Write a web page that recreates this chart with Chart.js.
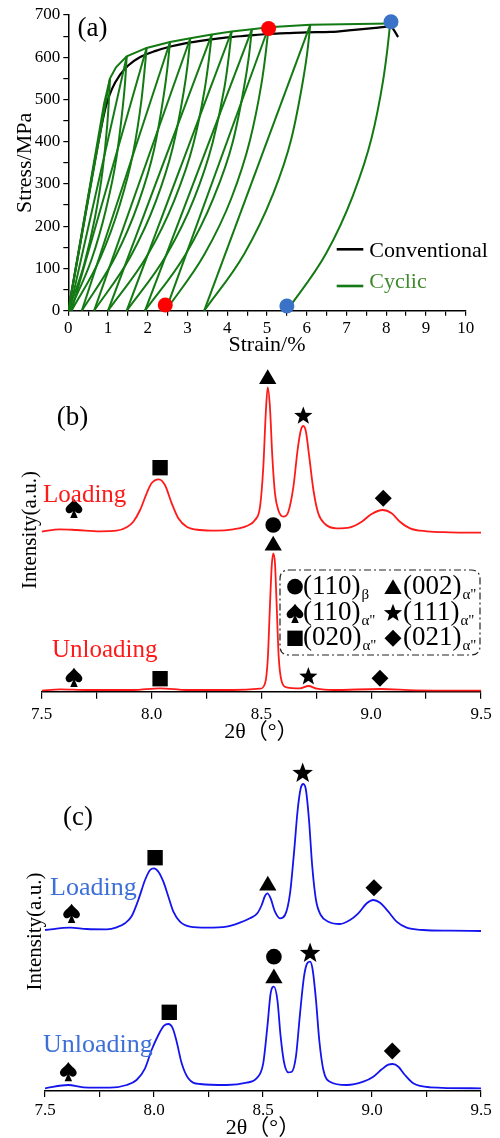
<!DOCTYPE html>
<html><head><meta charset="utf-8">
<script src="https://cdn.jsdelivr.net/npm/chart.js@4.4.1/dist/chart.umd.min.js"></script>
<style>
html,body{margin:0;padding:0;background:#fff;width:500px;height:1138px;overflow:hidden;}
canvas{position:absolute;left:0;}
#ca{top:0}#cb{top:360px}#cc{top:745px}
</style></head><body>
<canvas id="ca" width="500" height="360" style="width:500px;height:360px"></canvas>
<canvas id="cb" width="500" height="385" style="width:500px;height:385px"></canvas>
<canvas id="cc" width="500" height="393" style="width:500px;height:393px"></canvas>
<script>
// ---------- Panel (a): stress-strain ----------
const convStrain = [0, 0.45, 0.8, 0.95, 1.1, 1.3, 1.5, 1.8, 2.2, 2.6, 3.0, 3.5, 4.0, 4.5, 5.0, 5.5, 6.0, 6.6, 7.2, 7.8, 8.1, 8.3];
const convStress = [0, 240, 420, 485, 525, 558, 580, 600, 615, 626, 634, 641, 647, 651, 655, 657, 659, 660, 665, 670, 673, 648];
const cyclicPeakStrain = [1.05, 1.47, 1.97, 2.56, 3.07, 3.61, 4.11, 4.62, 5.04, 6.09, 8.1];
const cyclicPeakStress = [550, 602, 622, 636, 645, 654, 661, 666, 671, 677, 680];
const cyclicResidualStrain = [0, 0.03, 0.08, 0.34, 0.65, 1.0, 1.47, 1.93, 2.45, 3.42, 5.5];
const unloadStrain = [
 [0, 0.40, 0.67, 0.86, 0.98, 1.02, 1.05],
 [0.03, 0.58, 0.95, 1.21, 1.37, 1.43, 1.47],
 [0.08, 0.80, 1.29, 1.63, 1.84, 1.91, 1.97],
 [0.34, 1.18, 1.76, 2.16, 2.40, 2.49, 2.56],
 [0.65, 1.57, 2.20, 2.63, 2.90, 3.00, 3.07],
 [1.0, 1.99, 2.67, 3.14, 3.43, 3.53, 3.61],
 [1.47, 2.47, 3.16, 3.63, 3.93, 4.03, 4.11],
 [1.93, 2.95, 3.65, 4.14, 4.43, 4.54, 4.62],
 [2.45, 3.43, 4.11, 4.57, 4.86, 4.96, 5.04],
 [3.42, 4.43, 5.13, 5.61, 5.90, 6.01, 6.09],
 [5.5, 6.49, 7.16, 7.63, 7.92, 8.02, 8.1]];
const unloadStress = [
 [0, 110, 220, 330, 440, 495, 550],
 [0, 120, 241, 361, 482, 542, 602],
 [0, 124, 249, 373, 498, 560, 622],
 [0, 127, 254, 382, 509, 572, 636],
 [0, 129, 258, 387, 516, 581, 645],
 [0, 131, 262, 392, 523, 589, 654],
 [0, 132, 264, 397, 529, 595, 661],
 [0, 133, 266, 400, 533, 599, 666],
 [0, 134, 268, 403, 537, 604, 671],
 [0, 135, 271, 406, 542, 609, 677],
 [0, 136, 272, 408, 544, 612, 680]];
const envelopeStrain = [0, 0.5, 0.9, 1.05, 1.2, 1.47, 1.97, 2.56, 3.07, 3.61, 4.11, 4.62, 5.04, 6.09, 8.1];
const envelopeStress = [0, 272, 490, 550, 576, 602, 622, 636, 645, 654, 661, 666, 671, 677, 680];
const redDotStrain = [5.04, 2.44];
const redDotStress = [668, 13.5];
const blueDotStrain = [8.12, 5.5];
const blueDotStress = [684, 11];
const legendALabels = ['Conventional', 'Cyclic'];

// ---------- Panel (b): XRD, red (2θ, intensity a.u.) ----------
const bLoading = [[7.5,160],[7.583,162.4],[7.659,161.7],[7.765,160.4],[7.841,161],[7.887,164.4],[7.917,170],[7.948,181.7],[7.978,198.4],[8.0,208.4],[8.033,212.4],[8.061,206.7],[8.092,188.4],[8.122,173.4],[8.16,165],[8.221,161.7],[8.297,161],[8.372,162.4],[8.433,165.7],[8.471,171.7],[8.494,185],[8.509,225],[8.52,278],[8.529,304.4],[8.539,285],[8.55,235],[8.562,198.4],[8.577,181.7],[8.6,175],[8.623,180],[8.646,205],[8.665,241.7],[8.68,261.7],[8.691,265.7],[8.703,260],[8.718,235],[8.737,201.7],[8.759,178.4],[8.79,167.7],[8.843,163.4],[8.904,164.4],[8.957,170],[9.002,177.7],[9.052,181.7],[9.093,178.4],[9.131,170],[9.177,163.4],[9.253,160.4],[9.359,159.4],[9.5,159]];
const bUnloading = [[7.5,1],[7.583,2.4],[7.705,1.7],[7.917,1.7],[8.039,3.4],[8.16,1.7],[8.372,1.7],[8.494,3],[8.517,8.4],[8.529,31.7],[8.539,85],[8.547,125],[8.554,138.4],[8.562,128.4],[8.57,85],[8.579,35],[8.593,10],[8.615,4.4],[8.676,3.4],[8.714,5.7],[8.752,3],[8.828,1.7],[9.04,2.7],[9.2,1.4],[9.5,1]];
const bLoadMarks = [['triangle',8.529,315],['star',8.691,275.7],['square',8.039,224],['spade',7.647,183.4],['diamond',9.055,193.4]];
const bUnloadMarks = [['circle',8.554,166.7],['triangle',8.554,148.4],['spade',7.647,14.4],['square',8.039,13],['star',8.714,15],['diamond',9.04,13.4]];
const legendBShapes = ['circle','triangle','spade','star','square','diamond'];
const legendBLabels = ['(110)','(002)','(110)','(111)','(020)','(021)'];
const legendBSubs = ['β','α"','α"','α"','α"','α"'];

// ---------- Panel (c): XRD, blue ----------
const cLoading = [[7.5,161],[7.615,163.3],[7.691,162],[7.783,161.7],[7.829,163.7],[7.867,167.7],[7.898,175],[7.928,191],[7.959,211],[7.982,221],[8.0,222.7],[8.02,219.3],[8.043,209.3],[8.066,194.3],[8.089,179.3],[8.119,169.3],[8.165,164.3],[8.242,163.3],[8.333,164.3],[8.394,168.3],[8.44,172.7],[8.474,177.7],[8.494,186],[8.509,195],[8.52,197.7],[8.535,192.7],[8.555,179.3],[8.578,172.7],[8.601,176],[8.624,197.7],[8.642,237.7],[8.659,281],[8.673,302.7],[8.685,307],[8.697,301],[8.711,271],[8.726,224.3],[8.743,191],[8.765,176],[8.8,169.3],[8.853,167],[8.899,171],[8.937,177.7],[8.976,187.7],[9.006,191],[9.037,188.3],[9.075,179.3],[9.113,169.3],[9.159,163.3],[9.235,161],[9.358,160.3],[9.5,160]];
const cUnloading = [[7.5,2.7],[7.607,6],[7.676,3.7],[7.798,3.3],[7.875,6],[7.92,11],[7.959,22.7],[7.989,41],[8.02,56],[8.046,65.3],[8.066,67],[8.086,62.7],[8.104,49.3],[8.127,27.7],[8.157,12.7],[8.211,7],[8.333,6],[8.425,8.3],[8.471,12.7],[8.501,27.7],[8.52,64.3],[8.535,97.7],[8.55,104.3],[8.566,91],[8.581,54.3],[8.596,29.3],[8.616,18.7],[8.632,19.3],[8.651,34.3],[8.67,77.7],[8.688,114.3],[8.703,127.7],[8.716,129.3],[8.728,121],[8.743,91],[8.758,51],[8.777,21],[8.807,9.3],[8.884,6],[8.96,9.3],[9.006,14.3],[9.045,21.7],[9.075,26.3],[9.095,27],[9.121,24.3],[9.151,16],[9.189,7.7],[9.266,3.7],[9.5,2.7]];
const cLoadMarks = [['spade',7.622,177.7],['square',8.005,233.3],['triangle',8.522,207.7],['star',8.682,317.7,18],['diamond',9.009,203.3]];
const cUnloadMarks = [['spade',7.607,19.3],['square',8.07,78.7],['circle',8.55,134.3],['triangle',8.55,115],['star',8.716,137.7,18],['diamond',9.093,40]];

// ---------- rendering ----------
const SERIF = "'Liberation Serif','Times New Roman',serif";
Chart.defaults.font.family = SERIF;
Chart.defaults.color = '#000';
const GREEN = '#137a13', RED = '#ff1a1a', BLUE = '#1414ee';

function drawShape(ctx, type, x, y, s) {
  ctx.beginPath();
  if (type === 'triangle') {
    ctx.moveTo(x, y - s * 0.47); ctx.lineTo(x + s * 0.54, y + s * 0.45); ctx.lineTo(x - s * 0.54, y + s * 0.45); ctx.closePath();
  } else if (type === 'square') {
    ctx.rect(x - s * 0.48, y - s * 0.48, s * 0.96, s * 0.96);
  } else if (type === 'circle') {
    ctx.arc(x, y, s * 0.49, 0, Math.PI * 2);
  } else if (type === 'diamond') {
    ctx.moveTo(x, y - s * 0.53); ctx.lineTo(x + s * 0.53, y); ctx.lineTo(x, y + s * 0.53); ctx.lineTo(x - s * 0.53, y); ctx.closePath();
  } else if (type === 'star') {
    const R = s * 0.6, r = R * 0.42;
    for (let i = 0; i < 10; i++) {
      const a = -Math.PI / 2 + i * Math.PI / 5, rr = i % 2 ? r : R;
      const px = x + rr * Math.cos(a), py = y + rr * Math.sin(a);
      if (i) ctx.lineTo(px, py); else ctx.moveTo(px, py);
    }
    ctx.closePath();
  } else if (type === 'spade') {
    const w = s * 0.52, top = y - s * 0.6;
    ctx.moveTo(x, top);
    ctx.bezierCurveTo(x + w * 0.35, top + s * 0.3, x + w * 1.1, y - s * 0.12, x + w * 1.0, y + s * 0.1);
    ctx.bezierCurveTo(x + w * 0.92, y + s * 0.36, x + w * 0.3, y + s * 0.38, x + w * 0.08, y + s * 0.16);
    ctx.lineTo(x + w * 0.45, y + s * 0.6);
    ctx.lineTo(x - w * 0.45, y + s * 0.6);
    ctx.lineTo(x - w * 0.08, y + s * 0.16);
    ctx.bezierCurveTo(x - w * 0.3, y + s * 0.38, x - w * 0.92, y + s * 0.36, x - w * 1.0, y + s * 0.1);
    ctx.bezierCurveTo(x - w * 1.1, y - s * 0.12, x - w * 0.35, top + s * 0.3, x, top);
    ctx.closePath();
  }
  ctx.fill();
}

function makeMarks(shapes, texts, extra) {
  return {
    id: 'marks',
    afterDatasetsDraw(chart) {
      const ctx = chart.ctx, xs = chart.scales.x, ys = chart.scales.y;
      ctx.save();
      ctx.fillStyle = '#000';
      shapes.forEach(m => drawShape(ctx, m[0], xs.getPixelForValue(m[1]), ys.getPixelForValue(m[2]), m[3] || 16));
      texts.forEach(t => {
        ctx.font = t.size + 'px ' + SERIF; ctx.fillStyle = t.color || '#000';
        ctx.textAlign = t.align || 'left'; ctx.textBaseline = 'middle';
        ctx.fillText(t.text, xs.getPixelForValue(t.x), ys.getPixelForValue(t.y));
      });
      if (extra) extra(ctx, chart);
      ctx.restore();
    }
  };
}

function pts(xs, ys) { return xs.map((x, i) => ({x: x, y: ys[i]})); }
function pairs(a) { return a.map(p => ({x: p[0], y: p[1]})); }

// ----- chart (a)
const dsA = [];
dsA.push({data: pts(redDotStrain, redDotStress), showLine: false, pointRadius: 7.5, pointBackgroundColor: '#ff0000', pointBorderWidth: 0, clip: false});
dsA.push({data: pts(blueDotStrain, blueDotStress), showLine: false, pointRadius: 7.5, pointBackgroundColor: '#3a72c8', pointBorderWidth: 0, clip: false});
for (let i = 0; i < unloadStrain.length; i++) {
  dsA.push({data: pts(unloadStrain[i], unloadStress[i]), showLine: true, borderColor: GREEN, borderWidth: 2, pointRadius: 0, cubicInterpolationMode: 'monotone'});
}
for (let i = 0; i < cyclicPeakStrain.length - 1; i++) {
  dsA.push({data: [{x: cyclicResidualStrain[i], y: 0}, {x: cyclicPeakStrain[i], y: cyclicPeakStress[i]}], showLine: true, borderColor: GREEN, borderWidth: 2, pointRadius: 0});
}
dsA.push({data: pts(envelopeStrain, envelopeStress), showLine: true, borderColor: GREEN, borderWidth: 2, pointRadius: 0, tension: 0});
dsA.push({data: pts(convStrain, convStress), showLine: true, borderColor: '#000', borderWidth: 2.2, pointRadius: 0, cubicInterpolationMode: 'monotone'});

function legendA(ctx) {
  ctx.lineWidth = 2.6;
  ctx.strokeStyle = '#000'; ctx.beginPath(); ctx.moveTo(336.7, 249.3); ctx.lineTo(363.3, 249.3); ctx.stroke();
  ctx.strokeStyle = GREEN; ctx.beginPath(); ctx.moveTo(336.7, 286); ctx.lineTo(363.3, 286); ctx.stroke();
  ctx.font = '22px ' + SERIF; ctx.textAlign = 'left'; ctx.textBaseline = 'middle';
  ctx.fillStyle = '#000'; ctx.fillText(legendALabels[0], 369.3, 251);
  ctx.fillStyle = '#3f8a2c'; ctx.fillText(legendALabels[1], 369.3, 282.5);
}

const axisCommon = {
  grid: {display: true, drawOnChartArea: false, drawTicks: true, tickLength: 5, color: '#000', lineWidth: 1.2},
  border: {display: true, color: '#000', width: 1.5}
};

new Chart(document.getElementById('ca'), {
  type: 'scatter',
  data: {datasets: dsA},
  options: {
    responsive: false, animation: false, devicePixelRatio: 1,
    layout: {padding: {left: 0, right: 34.3, top: 15, bottom: 0}},
    plugins: {legend: {display: false}, tooltip: {enabled: false}},
    scales: {
      x: Object.assign({}, axisCommon, {
        type: 'linear', min: 0, max: 10,
        afterFit: s => { s.height = 49.3; },
        ticks: {stepSize: 0.5, autoSkip: false, maxRotation: 0, padding: 2.5, font: {size: 17}, color: '#000',
          callback: v => Math.abs(v - Math.round(v)) < 1e-6 ? String(Math.round(v)) : ''},
        title: {display: true, text: 'Strain/%', font: {size: 22}, color: '#000', padding: {top: 0, bottom: 1.8}}
      }),
      y: Object.assign({}, axisCommon, {
        type: 'linear', min: 0, max: 700,
        afterFit: s => { s.width = 68.3; },
        ticks: {stepSize: 50, autoSkip: false, padding: 3, font: {size: 17}, color: '#000',
          callback: v => Math.abs(v / 100 - Math.round(v / 100)) < 1e-6 ? String(Math.round(v)) : ''},
        title: {display: true, text: 'Stress/MPa', font: {size: 22}, color: '#000', padding: {top: 11.8, bottom: 0}}
      })
    }
  },
  plugins: [makeMarks([], [{text: '(a)', x: 0.61, y: 666, size: 27, align: 'center'}], legendA)]
});

// ----- XRD chart builder
function xrdChart(id, loading, unloading, color, yMax, topPad, xHeight, tickLen, tickPad, titlePad, titleLH, yTitleX, shapes, texts, extra) {
  return new Chart(document.getElementById(id), {
    type: 'scatter',
    data: {datasets: [
      {data: pairs(loading), showLine: true, borderColor: color, borderWidth: 1.8, pointRadius: 0, cubicInterpolationMode: 'monotone'},
      {data: pairs(unloading), showLine: true, borderColor: color, borderWidth: 1.8, pointRadius: 0, cubicInterpolationMode: 'monotone'}
    ]},
    options: {
      responsive: false, animation: false, devicePixelRatio: 1,
      layout: {padding: {left: 0, right: 19, top: topPad, bottom: 0}},
      plugins: {legend: {display: false}, tooltip: {enabled: false}},
      scales: {
        x: {
          type: 'linear', min: 7.5, max: 9.5,
          afterFit: s => { s.height = xHeight; },
          grid: {display: true, drawOnChartArea: false, drawTicks: true, tickLength: tickLen, color: '#000', lineWidth: 1.2},
          border: {display: true, color: '#000', width: 1.5},
          ticks: {stepSize: 0.25, autoSkip: false, maxRotation: 0, padding: tickPad, font: {size: 17}, color: '#000',
            callback: v => Math.abs(v * 2 - Math.round(v * 2)) < 1e-6 ? v.toFixed(1) : ''},
          title: {display: true, text: '2θ（°）', font: {size: 22, family: "'Liberation Serif','Noto Sans CJK SC',serif", lineHeight: titleLH}, color: '#000', padding: {top: 0, bottom: titlePad}}
        },
        y: {
          type: 'linear', min: 0, max: yMax,
          afterFit: s => { s.width = (id === 'cb') ? 41.7 : 45; },
          grid: {display: false}, border: {display: false},
          ticks: {display: false},
          title: {display: true, text: 'Intensity(a.u.)', font: {size: 21}, color: '#000', padding: {top: yTitleX - 12.6, bottom: 0}}
        }
      }
    },
    plugins: [makeMarks(shapes, texts, extra)]
  });
}

function roundRect(ctx, x, y, w, h, r) {
  ctx.beginPath();
  ctx.moveTo(x + r, y); ctx.lineTo(x + w - r, y); ctx.quadraticCurveTo(x + w, y, x + w, y + r);
  ctx.lineTo(x + w, y + h - r); ctx.quadraticCurveTo(x + w, y + h, x + w - r, y + h);
  ctx.lineTo(x + r, y + h); ctx.quadraticCurveTo(x, y + h, x, y + h - r);
  ctx.lineTo(x, y + r); ctx.quadraticCurveTo(x, y, x + r, y); ctx.closePath();
}

function legendB(ctx) {
  ctx.strokeStyle = '#222'; ctx.lineWidth = 1.2; ctx.setLineDash([7, 3, 2, 3]);
  roundRect(ctx, 280, 210, 200, 85, 9); ctx.stroke();
  ctx.setLineDash([]);
  const rows = [226.7, 253.3, 278.3];
  const symX = [295, 393], txtX = [303, 403];
  ctx.textAlign = 'left'; ctx.textBaseline = 'middle'; ctx.fillStyle = '#000';
  for (let i = 0; i < legendBShapes.length; i++) {
    const r = Math.floor(i / 2), c = i % 2;
    drawShape(ctx, legendBShapes[i], symX[c], rows[r], 16);
    ctx.font = '27px ' + SERIF;
    ctx.fillText(legendBLabels[i], txtX[c], rows[r]);
    const w = ctx.measureText(legendBLabels[i]).width;
    ctx.font = '15px ' + SERIF;
    ctx.fillText(legendBSubs[i], txtX[c] + w + 1, rows[r] + 8);
  }
}

xrdChart('cb', bLoading, bUnloading, RED, 323.4, 8.3, 53.3, 7, 6, 0, 1.2, 30,
  bLoadMarks.concat(bUnloadMarks),
  [{text: '(b)', x: 7.640, y: 273.7, size: 27, align: 'center'},
   {text: 'Loading', x: 7.506, y: 196.7, size: 25, color: RED},
   {text: 'Unloading', x: 7.547, y: 41.7, size: 25, color: RED}],
  legendB);

xrdChart('cc', cLoading, cUnloading, BLUE, 319, 27, 47, 6, 3, 0.1, 0.9, 35,
  cLoadMarks.concat(cUnloadMarks),
  [{text: '(c)', x: 7.651, y: 273, size: 27, align: 'center'},
   {text: 'Loading', x: 7.523, y: 202.7, size: 26, color: '#3d6fd8'},
   {text: 'Unloading', x: 7.491, y: 46, size: 26, color: '#3d6fd8'}],
  null);
</script>
</body></html>
